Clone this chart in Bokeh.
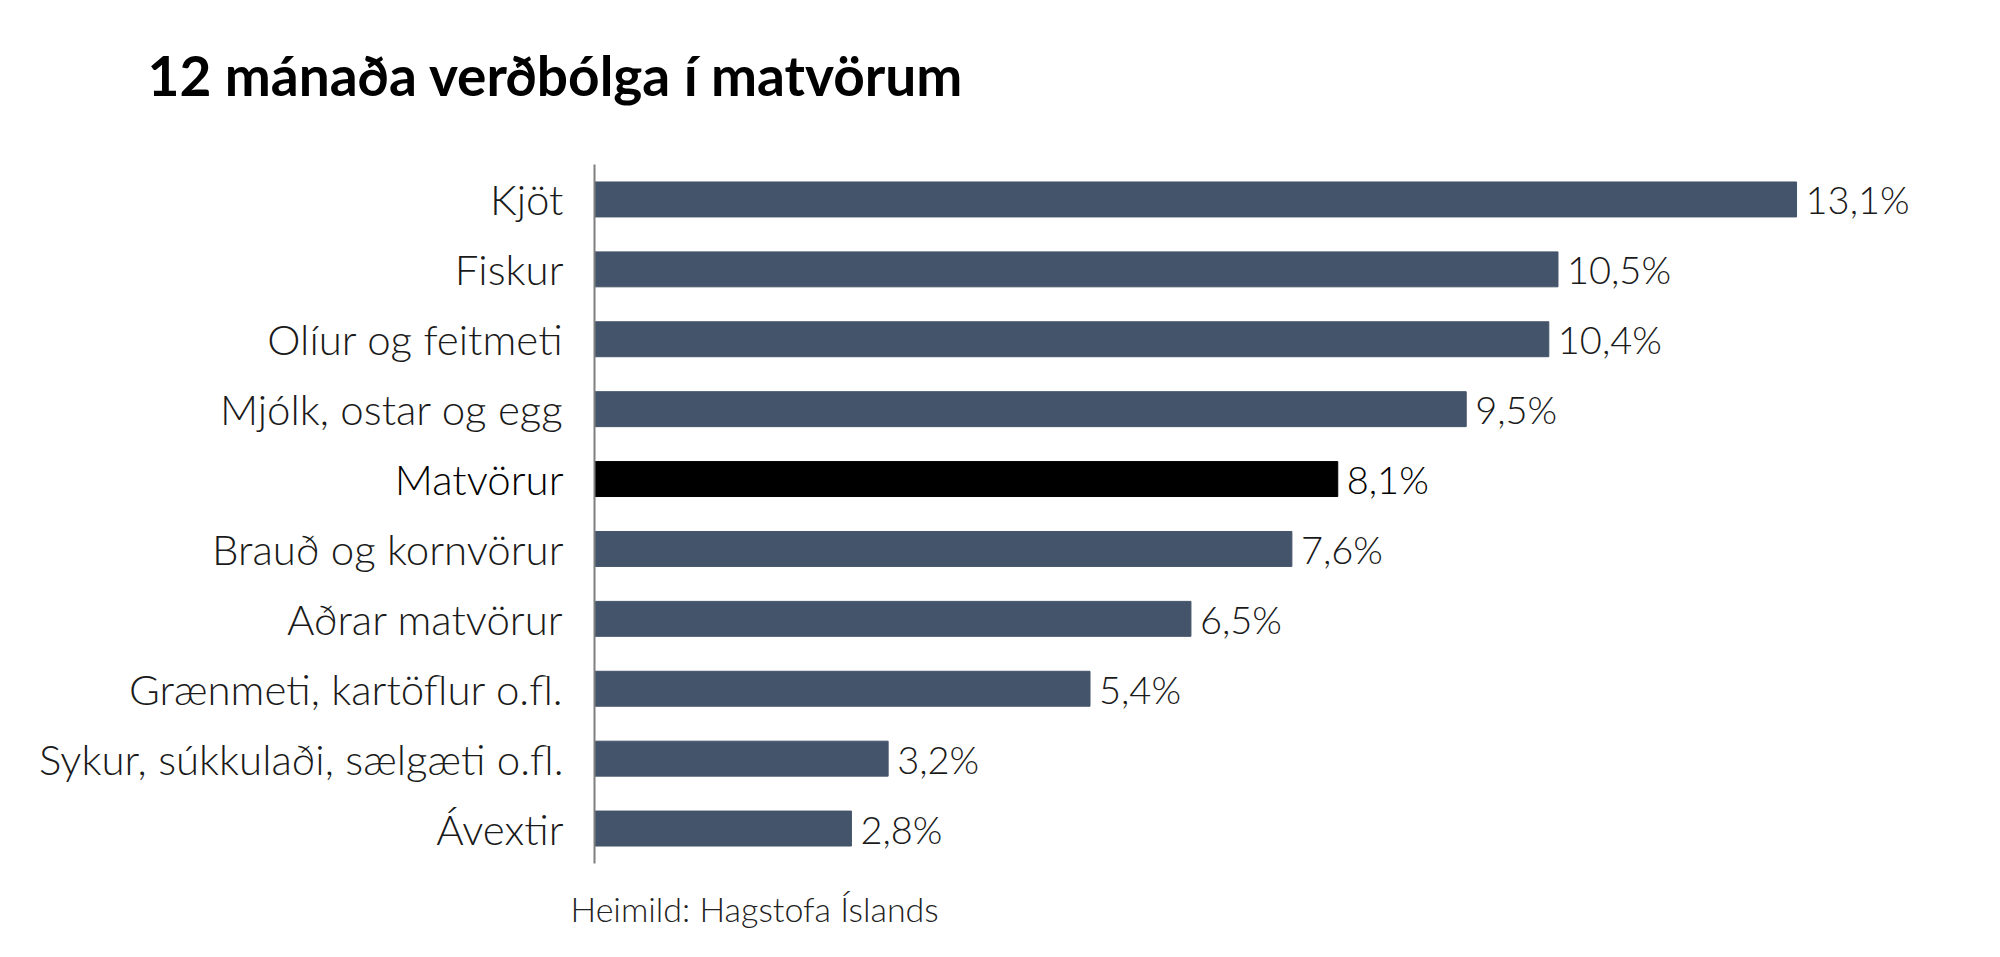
from bokeh.plotting import figure
from bokeh.models import ColumnDataSource, LabelSet, Label, Range1d
from bokeh.core.properties import value
from bokeh.embed import file_html
from bokeh.resources import INLINE

categories = ["Kjöt", "Fiskur", "Olíur og feitmeti", "Mjólk, ostar og egg", "Matvörur",
              "Brauð og kornvörur", "Aðrar matvörur", "Grænmeti, kartöflur o.fl.",
              "Sykur, súkkulaði, sælgæti o.fl.", "Ávextir"]
values = [13.1, 10.5, 10.4, 9.5, 8.1, 7.6, 6.5, 5.4, 3.2, 2.8]
value_labels = ["13,1%", "10,5%", "10,4%", "9,5%", "8,1%", "7,6%", "6,5%", "5,4%", "3,2%", "2,8%"]
highlight = "Matvörur"
title_text = "12 mánaða verðbólga í matvörum"
source_text = "Heimild: Hagstofa Íslands"

BAR = "#44546A"
HL = "#000000"
LIGHT_FONT = "Lato Light"

pos = list(range(len(categories)))
colors = [HL if c == highlight else BAR for c in categories]
text_colors = ["#000000" if c == highlight else "#1a1a1a" for c in categories]

# layout: frame covers the whole canvas; bars start at x=594,
# rows span y 164..863 (image pixels)
W, H = 1984, 941
PX_X = 91.76
PX_Y = 69.9
x0 = -594 / PX_X
x1 = (W - 594) / PX_X
ytop = -0.5 - 164 / PX_Y
ybot = 9.5 + (H - 863) / PX_Y

p = figure(width=W, height=H, output_backend="svg", toolbar_location=None,
           x_range=Range1d(x0, x1), y_range=Range1d(ybot, ytop),
           min_border=0, title=None)
p.xaxis.visible = False
p.yaxis.visible = False
p.xgrid.visible = False
p.ygrid.visible = False
p.outline_line_color = None
p.background_fill_color = "white"
p.border_fill_color = "white"

src = ColumnDataSource(dict(y=pos, x=values, color=colors, tcol=text_colors,
                            cat=categories, lab=value_labels, zero=[0] * len(pos)))
p.hbar(y="y", right="x", left=0, height=0.5, source=src, fill_color="color",
       line_color="color", line_width=1)

# category axis line
p.segment(x0=[0], y0=[-0.5], x1=[0], y1=[9.5], line_color="#7F7F7F", line_width=2)

p.add_layout(LabelSet(x="zero", y="y", text="cat", source=src, x_offset=-31,
                      text_align="right", text_baseline="middle",
                      text_font=value(LIGHT_FONT), text_font_size="42px", text_color="tcol"))
p.add_layout(LabelSet(x="x", y="y", text="lab", source=src, x_offset=9,
                      text_align="left", text_baseline="middle",
                      text_font=value(LIGHT_FONT), text_font_size="38px", text_color="tcol"))

p.add_layout(Label(x=(147 - 594) / PX_X, y=-0.5 - (164 - 74) / PX_Y, text=title_text,
                   text_font="Lato", text_font_style="bold", text_font_size="55px",
                   text_color="#000000", text_align="left", text_baseline="alphabetic"))
p.add_layout(Label(x=(570 - 594) / PX_X, y=9.5 + (908 - 863) / PX_Y, text=source_text,
                   text_font=LIGHT_FONT, text_font_size="34px", text_color="#222222",
                   text_align="left", text_baseline="alphabetic"))

open("out.html", "w").write(file_html(p, INLINE))
